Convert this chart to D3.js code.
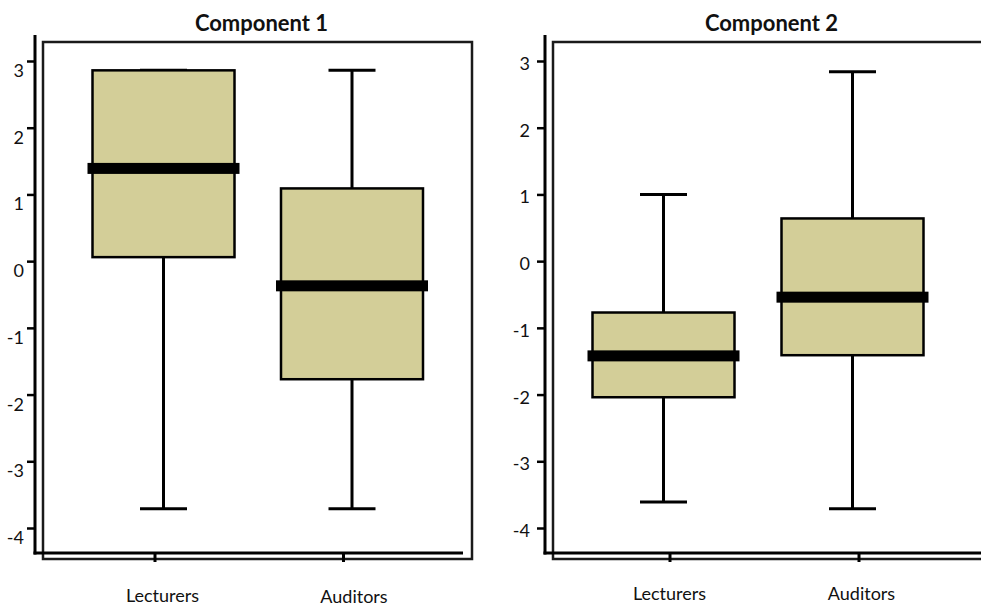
<!DOCTYPE html>
<html lang="en">
<head>
   <meta charset="UTF-8">
   <title>Component box plots</title>
   <style>
      html, body {
         margin: 0;
         padding: 0;
         background: #fff;
         overflow: hidden;
      }

      text {
         font-family: Lato, "Liberation Sans", sans-serif;
         fill: #111;
      }

      .title {
         font-size: 22px;
         font-weight: bold;
      }

      .tick-label {
         font-size: 18px;
      }

      .cat-label {
         font-size: 18px;
      }
   </style>
   <script src="https://cdn.jsdelivr.net/npm/d3@7"></script>
</head>
<body>
   <svg id="chart" width="981" height="607"></svg>
   <script>
      // data
      const categories = ['Lecturers', 'Auditors']
      const yTicks = [3, 2, 1, 0, -1, -2, -3, -4]

      const comp1Low = [-3.71, -3.71]
      const comp1Q1 = [0.06, -1.77]
      const comp1Median = [1.39, -0.37]
      const comp1Q3 = [2.86, 1.09]
      const comp1High = [2.86, 2.86]

      const comp2Low = [-3.61, -3.71]
      const comp2Q1 = [-2.04, -1.41]
      const comp2Median = [-1.42, -0.54]
      const comp2Q3 = [-0.77, 0.64]
      const comp2High = [1.00, 2.84]

      const toBoxes = (low, q1, med, q3, high) =>
         categories.map((c, i) => ({ cat: c, low: low[i], q1: q1[i], med: med[i], q3: q3[i], high: high[i] }))

      // layout per panel
      const panels = [
         {
            title: 'Component 1',
            boxes: toBoxes(comp1Low, comp1Q1, comp1Median, comp1Q3, comp1High),
            axisX: 35, frameW: 429, axisLen: 429, tickShift: -9, labelEnd: 11, labelDy: 11,
            xRange: [120.5, 309], labelY: [602, 603], labelShift: [-1, 2]
         },
         {
            title: 'Component 2',
            boxes: toBoxes(comp2Low, comp2Q1, comp2Median, comp2Q3, comp2High),
            axisX: 545, frameW: 445, axisLen: 445, tickShift: 6, labelEnd: 15, labelDy: 4,
            xRange: [110.5, 299.5], labelY: [600, 600], labelShift: [6, 9]
         }
      ]

      const AXIS_TOP = 35
      const AXIS_BOTTOM = 553
      const BOX_W = 142
      const MED_W = 152
      const CAP_W = 47
      const FILL = '#d3ce98'

      const svg = d3.select('#chart')

      const yScale = d3.scaleLinear()
         .domain([-4, 3])
         .range([528, 61])

      panels.forEach(p => {
         const frameX = p.axisX + 8
         const g = svg.append('g')

         const xScale = d3.scalePoint()
            .domain(categories)
            .range(p.xRange.map(v => v + frameX))

         // frame
         g.append('rect')
            .attr('x', frameX)
            .attr('y', 42)
            .attr('width', p.frameW)
            .attr('height', 559 - 42)
            .attr('fill', 'none')
            .attr('stroke', '#1a1a1a')
            .attr('stroke-width', 2.5)

         // title
         g.append('text')
            .attr('class', 'title')
            .attr('x', frameX + 429 / 2 + 4)
            .attr('y', 31)
            .attr('text-anchor', 'middle')
            .text(p.title)

         // y axis
         const yAxis = d3.axisLeft(yScale)
            .tickValues(yTicks)
            .tickSize(8)
            .tickFormat(d => String(d))

         const yAxisGroup = g.append('g')
            .attr('transform', `translate(${p.axisX}, 0)`)
            .call(yAxis)

         yAxisGroup.select('.domain').remove()
         yAxisGroup.selectAll('.tick line')
            .attr('stroke', '#000')
            .attr('stroke-width', 2.5)
         yAxisGroup.selectAll('.tick text')
            .attr('class', 'tick-label')
            .attr('x', -p.labelEnd)
            .attr('dy', null)
            .attr('y', p.labelDy)
            .attr('dominant-baseline', 'middle')
            .attr('font-family', null)
            .attr('font-size', null)
            .attr('fill', '#111')

         g.append('line')
            .attr('x1', p.axisX).attr('x2', p.axisX)
            .attr('y1', AXIS_TOP).attr('y2', AXIS_BOTTOM + 1.5)
            .attr('stroke', '#000')
            .attr('stroke-width', 3)

         // x axis
         const xAxis = d3.axisBottom(xScale)
            .tickSize(9)
            .tickFormat('')

         const xAxisGroup = g.append('g')
            .attr('transform', `translate(${p.tickShift}, ${AXIS_BOTTOM})`)
            .call(xAxis)

         xAxisGroup.select('.domain').remove()
         xAxisGroup.selectAll('.tick line')
            .attr('stroke', '#000')
            .attr('stroke-width', 3)

         g.append('line')
            .attr('x1', p.axisX - 1.5).attr('x2', p.axisX + p.axisLen - 1)
            .attr('y1', AXIS_BOTTOM).attr('y2', AXIS_BOTTOM)
            .attr('stroke', '#000')
            .attr('stroke-width', 3)

         g.selectAll('.cat-label')
            .data(categories)
            .enter()
            .append('text')
            .attr('class', 'cat-label')
            .attr('x', (d, i) => xScale(d) + p.labelShift[i])
            .attr('y', (d, i) => p.labelY[i])
            .attr('text-anchor', 'middle')
            .text(d => d)

         // boxes
         const box = g.selectAll('.box')
            .data(p.boxes)
            .enter()
            .append('g')
            .attr('class', 'box')

         box.append('line')
            .attr('x1', d => xScale(d.cat)).attr('x2', d => xScale(d.cat))
            .attr('y1', d => yScale(d.high)).attr('y2', d => yScale(d.low))
            .attr('stroke', '#000')
            .attr('stroke-width', 3)

         box.append('line')
            .attr('x1', d => xScale(d.cat) - CAP_W / 2).attr('x2', d => xScale(d.cat) + CAP_W / 2)
            .attr('y1', d => yScale(d.high)).attr('y2', d => yScale(d.high))
            .attr('stroke', '#000')
            .attr('stroke-width', 3)

         box.append('line')
            .attr('x1', d => xScale(d.cat) - CAP_W / 2).attr('x2', d => xScale(d.cat) + CAP_W / 2)
            .attr('y1', d => yScale(d.low)).attr('y2', d => yScale(d.low))
            .attr('stroke', '#000')
            .attr('stroke-width', 3)

         box.append('rect')
            .attr('x', d => xScale(d.cat) - BOX_W / 2)
            .attr('y', d => yScale(d.q3))
            .attr('width', BOX_W)
            .attr('height', d => yScale(d.q1) - yScale(d.q3))
            .attr('fill', FILL)
            .attr('stroke', '#000')
            .attr('stroke-width', 2.5)

         box.append('rect')
            .attr('x', d => xScale(d.cat) - MED_W / 2)
            .attr('y', d => yScale(d.med) - 5.5)
            .attr('width', MED_W)
            .attr('height', 11)
            .attr('fill', '#000')
      })
   </script>
</body>
</html>
